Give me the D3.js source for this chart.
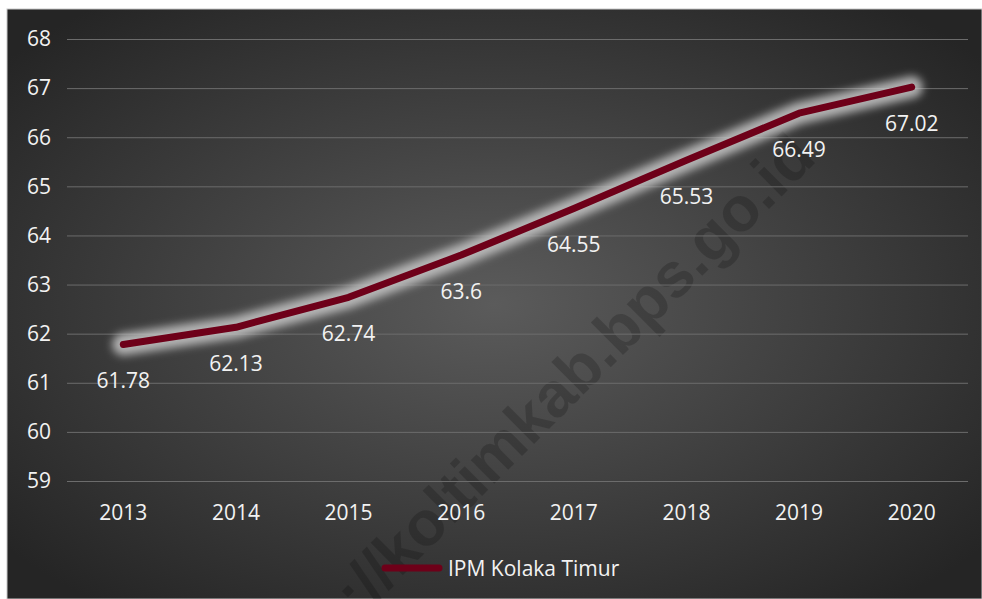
<!DOCTYPE html>
<html><head><meta charset="utf-8">
<script src="https://cdn.jsdelivr.net/npm/d3@7"></script>
<style>html,body{margin:0;padding:0;background:#fff;}svg{display:block;}</style>
</head><body>
<script>
const years = ["2013","2014","2015","2016","2017","2018","2019","2020"];
const ipm = [61.78, 62.13, 62.74, 63.6, 64.55, 65.53, 66.49, 67.02];
const yTicks = [59,60,61,62,63,64,65,66,67,68];
const seriesName = "IPM Kolaka Timur";
const watermark = "https://koltimkab.bps.go.id";

const W = 982, H = 599;
const svg = d3.select("body").append("svg").attr("width", W).attr("height", H);
const defs = svg.append("defs");
const rg = defs.append("radialGradient").attr("id","bg").attr("cx","50%").attr("cy","50%").attr("r","65%");
rg.append("stop").attr("offset","0%").attr("stop-color","#5b5b5b");
rg.append("stop").attr("offset","100%").attr("stop-color","#252525");
const f = defs.append("filter").attr("id","glow").attr("x","-20%").attr("y","-50%").attr("width","140%").attr("height","200%");
f.append("feGaussianBlur").attr("stdDeviation", 4.5);

svg.append("rect").attr("x",7).attr("y",9).attr("width",W-7).attr("height",H-9)
  .attr("fill","url(#bg)").attr("stroke","#c8c8c8").attr("stroke-width",1);

const font = "'Open Sans', sans-serif";
const fs = 21;
const x = d3.scaleBand().domain(years).range([67, 968]).paddingInner(0).paddingOuter(0);
const cx = d => x(d) + x.bandwidth()/2;
const y = d3.scaleLinear().domain([59, 68]).range([481, 39]);

// watermark
svg.append("text").text(watermark)
  .attr("transform","translate(818,160) rotate(-45)")
  .attr("text-anchor","end")
  .attr("font-family","'Liberation Sans', Arial, sans-serif").attr("font-weight","bold")
  .attr("font-size",63).attr("fill","#000").attr("fill-opacity",0.19);

// gridlines
svg.append("g").selectAll("line").data(yTicks).join("line")
  .attr("x1",67).attr("x2",968).attr("y1",d=>y(d)+0.5).attr("y2",d=>y(d)+0.5)
  .attr("stroke","#6c6c6c").attr("stroke-width",1);

// y axis labels
svg.append("g").selectAll("text").data(yTicks).join("text")
  .attr("x",51).attr("y",d=>y(d)).attr("dy","0.35em").attr("text-anchor","end")
  .attr("font-family",font).attr("font-size",fs).attr("fill","#f2f2f2").text(d=>d);

// x axis labels
svg.append("g").selectAll("text").data(years).join("text")
  .attr("x",d=>cx(d)).attr("y",520).attr("text-anchor","middle")
  .attr("font-family",font).attr("font-size",fs).attr("fill","#f2f2f2").text(d=>d);

const pts = years.map((yr,i)=>[cx(yr), y(ipm[i])]);
const line = d3.line();
svg.append("path").attr("d", line(pts)).attr("fill","none")
  .attr("stroke","#c8c8c8").attr("stroke-width",22).attr("stroke-linecap","round").attr("stroke-linejoin","round")
  .attr("stroke-opacity",0.85).attr("filter","url(#glow)");
svg.append("path").attr("d", line(pts)).attr("fill","none")
  .attr("stroke","#6e0019").attr("stroke-width",7).attr("stroke-linecap","round").attr("stroke-linejoin","round");

// data labels
svg.append("g").selectAll("text").data(years).join("text")
  .attr("x",d=>cx(d)).attr("y",(d,i)=>y(ipm[i])+44).attr("text-anchor","middle")
  .attr("font-family",font).attr("font-size",fs).attr("fill","#f2f2f2").text((d,i)=>ipm[i]);

// legend
svg.append("line").attr("x1",385).attr("x2",439).attr("y1",568).attr("y2",568)
  .attr("stroke","#6e0019").attr("stroke-width",7).attr("stroke-linecap","round");
svg.append("text").attr("x",448).attr("y",576).attr("font-family",font).attr("font-size",fs)
  .attr("fill","#f2f2f2").text(seriesName);
</script>
</body></html>
